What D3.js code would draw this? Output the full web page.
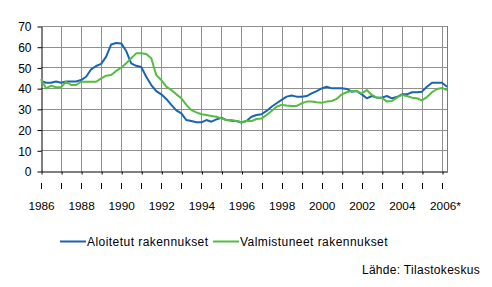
<!DOCTYPE html>
<html>
<head>
<meta charset="utf-8">
<script src="https://cdn.jsdelivr.net/npm/d3@7"></script>
</head>
<body style="margin:0;background:#fff;overflow:hidden">
<svg id="chart" width="492" height="287" style="display:block"></svg>
<script>
// Quarterly periods, 1986 Q1 .. 2006 Q2
const startYear = 1986;
const periods = d3.range(82).map(i => startYear + i / 4);

const seriesNames = ["Aloitetut rakennukset", "Valmistuneet rakennukset"];
const seriesColors = ["#1a64b4", "#52be3e"];

const aloitetut = [
  43.5, 42.6, 42.6, 43.2, 42.6, 43.2, 43.2, 43.2,   // 1986-1987
  43.9, 45.5, 49.1, 50.7, 51.7, 55.2, 61.1, 61.8,   // 1988-1989
  61.6, 57.9, 52.0, 50.8, 50.2, 45.5, 41.5, 38.6,   // 1990-1991
  37.0, 34.8, 31.9, 29.3, 27.8, 24.6, 24.1, 23.5,   // 1992-1993
  23.5, 24.6, 23.8, 24.9, 25.7, 24.6, 24.3, 24.1,   // 1994-1995
  23.4, 24.1, 26.2, 27.0, 27.4, 29.0, 31.0, 32.7,   // 1996-1997
  34.3, 35.9, 36.4, 35.9, 35.9, 36.2, 37.5, 38.6,   // 1998-1999
  39.9, 40.7, 39.9, 39.9, 39.9, 39.6, 38.3, 38.6,   // 2000-2001
  37.0, 35.1, 36.2, 35.4, 35.4, 36.2, 35.1, 35.7,   // 2002-2003
  37.0, 37.0, 38.0, 38.0, 38.3, 40.7, 42.6, 42.6,   // 2004-2005
  42.6, 40.7                                        // 2006
];

const valmistuneet = [
  44.4, 39.9, 41.2, 40.4, 40.4, 43.1, 41.5, 41.5,   // 1986-1987
  43.1, 43.1, 43.1, 43.1, 44.7, 46.0, 46.3, 48.3,   // 1988-1989
  49.9, 52.0, 54.4, 56.8, 56.8, 56.5, 54.4, 46.3,   // 1990-1991
  43.9, 40.7, 39.1, 37.0, 35.1, 31.9, 29.4, 28.3,   // 1992-1993
  27.4, 27.0, 26.6, 26.2, 25.4, 24.6, 24.6, 24.1,   // 1994-1995
  23.5, 24.1, 24.1, 25.1, 25.4, 27.0, 29.0, 31.0,   // 1996-1997
  31.9, 31.6, 31.4, 31.4, 32.7, 33.5, 33.5, 33.2,   // 1998-1999
  33.0, 33.5, 33.8, 34.8, 37.0, 38.0, 38.6, 38.6,   // 2000-2001
  37.5, 39.1, 36.7, 35.4, 35.4, 33.5, 33.8, 35.4,   // 2002-2003
  36.7, 36.2, 35.4, 35.1, 34.1, 35.7, 38.0, 39.6,   // 2004-2005
  40.1, 39.1                                        // 2006
];

const yTicks = [0, 10, 20, 30, 40, 50, 60, 70];
const xGridYears = d3.range(1986, 2007);
const xLabels = ["1986", "1988", "1990", "1992", "1994", "1996", "1998", "2000", "2002", "2004", "2006*"];
const sourceText = "Lähde: Tilastokeskus";

const FONT = "'Liberation Sans', Arial, sans-serif";
const svg = d3.select("#chart");
const pLeft = 41, pRight = 447, pTop = 26, pBottom = 171;

const xs = d3.scaleLinear().domain([1986, 2006.25]).range([pLeft, pRight]);
const ys = d3.scaleLinear().domain([0, 70]).range([pBottom, pTop]);

// series lines (drawn first, raised later)
const lineGen = d3.line().x((d, i) => xs(periods[i])).y(d => ys(d));
const seriesG = svg.append("g");
[aloitetut, valmistuneet].forEach((s, k) => {
  seriesG.append("path").datum(s).attr("d", lineGen)
    .attr("fill", "none").attr("stroke", seriesColors[k]).attr("stroke-width", 2)
    .attr("stroke-linejoin", "round");
});

// grid as 1px filled rects
const gridG = svg.append("g");
gridG.selectAll(".gv").data(xGridYears.slice(1)).join("rect").attr("class", "gv")
  .attr("x", d => Math.round(xs(d))).attr("y", pTop).attr("width", 1).attr("height", pBottom - pTop)
  .attr("fill", "#8f8f8f");
gridG.selectAll(".gh").data(yTicks.slice(1)).join("rect").attr("class", "gh")
  .attr("x", pLeft).attr("y", d => Math.round(ys(d))).attr("width", pRight - pLeft + 1).attr("height", 1)
  .attr("fill", "#8f8f8f");
gridG.append("rect").attr("x", pRight).attr("y", pTop).attr("width", 1).attr("height", pBottom - pTop)
  .attr("fill", "#7a7a7a");

// y axis
const yg = svg.append("g").attr("transform", `translate(${pLeft + 0.5},0.5)`)
  .call(d3.axisLeft(ys).tickValues(yTicks).tickSize(4).tickSizeOuter(0).tickPadding(6));
yg.select(".domain").attr("stroke", "#000");
yg.selectAll(".tick line").attr("stroke", "#000");
yg.selectAll("text").attr("font-family", FONT).attr("font-size", 12).attr("fill", "#000").attr("dy", "0.36em");

// x axis
const xg = svg.append("g").attr("transform", `translate(0.5,${pBottom + 0.5})`)
  .call(d3.axisBottom(xs).tickValues(xGridYears).tickSize(3).tickSizeOuter(0).tickFormat(""));
xg.select(".domain").attr("stroke", "#000");
xg.selectAll(".tick line").attr("stroke", "#000");

// second row of year marks as rects
svg.append("g").selectAll("rect").data(xGridYears).join("rect")
  .attr("x", d => Math.round(xs(d))).attr("y", 183).attr("width", 1).attr("height", 6)
  .attr("fill", "#000");

// x labels
svg.append("g").selectAll("text").data(xLabels).join("text")
  .attr("x", d => xs(parseInt(d)) + 0.5 + (d.endsWith("*") ? 3 : 0))
  .attr("y", 210)
  .attr("text-anchor", "middle")
  .attr("font-family", FONT).attr("font-size", 11.8).attr("fill", "#000")
  .text(d => d);

seriesG.raise();

// legend
const legendX = [60, 213];
seriesNames.forEach((n, k) => {
  svg.append("line").attr("x1", legendX[k]).attr("x2", legendX[k] + 26)
    .attr("y1", 241.5).attr("y2", 241.5).attr("stroke", seriesColors[k]).attr("stroke-width", 2);
  svg.append("text").attr("x", legendX[k] + 27).attr("y", 245.5)
    .attr("font-family", FONT).attr("font-size", 12).attr("letter-spacing", 0.45).text(n);
});

svg.append("text").attr("x", 480).attr("y", 274).attr("text-anchor", "end")
  .attr("font-family", FONT).attr("font-size", 12).attr("letter-spacing", 0.3).text(sourceText);
</script>
</body>
</html>
